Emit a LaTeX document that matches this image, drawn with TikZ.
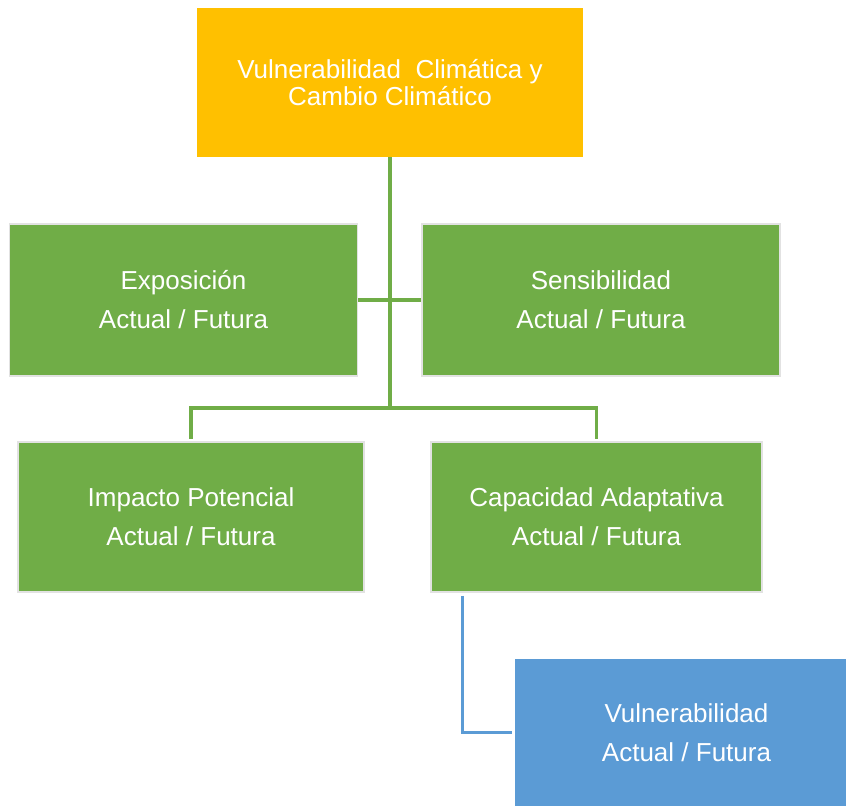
\documentclass[tikz,border=0pt]{standalone}
\usepackage{fontspec}
\setmainfont{Liberation Sans}
\usetikzlibrary{calc}
\definecolor{gold}{HTML}{FFC000}
\definecolor{leaf}{HTML}{70AD47}
\definecolor{sky}{HTML}{5B9BD5}
\definecolor{rim}{HTML}{E2E2E2}
\tikzset{
  box/.style={rectangle, inner sep=0pt, text=white, align=center,
    font=\fontsize{26}{39}\selectfont},
  topbox/.style={box, fill=gold, font=\fontsize{26}{27}\selectfont},
  greenbox/.style={box, fill=leaf, draw=rim, line width=1.5pt},
  bluebox/.style={box, fill=sky},
  gline/.style={draw=leaf, line width=3.2pt},
  bline/.style={draw=sky, line width=3.2pt},
}
\begin{document}
\begin{tikzpicture}[x=1pt,y=-1pt]
\useasboundingbox (0,0) rectangle (846,806);
\node[topbox, minimum width=386pt, minimum height=149pt] (top) at (390,82.5)
  {Vulnerabilidad\ \ Climática y\\Cambio Climático};
\node[greenbox, minimum width=348pt, minimum height=152pt] (exp) at (183.5,300)
  {Exposición\\Actual / Futura};
\node[greenbox, minimum width=358pt, minimum height=152pt] (sen) at (601,300)
  {Sensibilidad\\Actual / Futura};
\node[greenbox, minimum width=346pt, minimum height=150pt] (imp) at (191,517)
  {Impacto Potencial\\Actual / Futura};
\node[greenbox, minimum width=331pt, minimum height=150pt] (cap) at (596.5,517)
  {Capacidad Adaptativa\\Actual / Futura};
\node[bluebox, minimum width=331pt, minimum height=147pt] (vul) at (680.5,732.5)
  {\hspace*{12pt}Vulnerabilidad\\\hspace*{12pt}Actual / Futura};
\coordinate (hub) at (390,408);
\draw[gline] (top.south) -- (hub);
\draw[gline] (exp.east) -- (sen.west);
\draw[gline, shorten >=2pt] (hub) -| (imp.north);
\draw[gline, shorten >=2pt] (hub) -| (cap.north);
\draw[bline, shorten <=3pt, shorten >=3pt] ($(cap.south west)+(32,0)$) |- (vul.west);
\end{tikzpicture}
\end{document}
